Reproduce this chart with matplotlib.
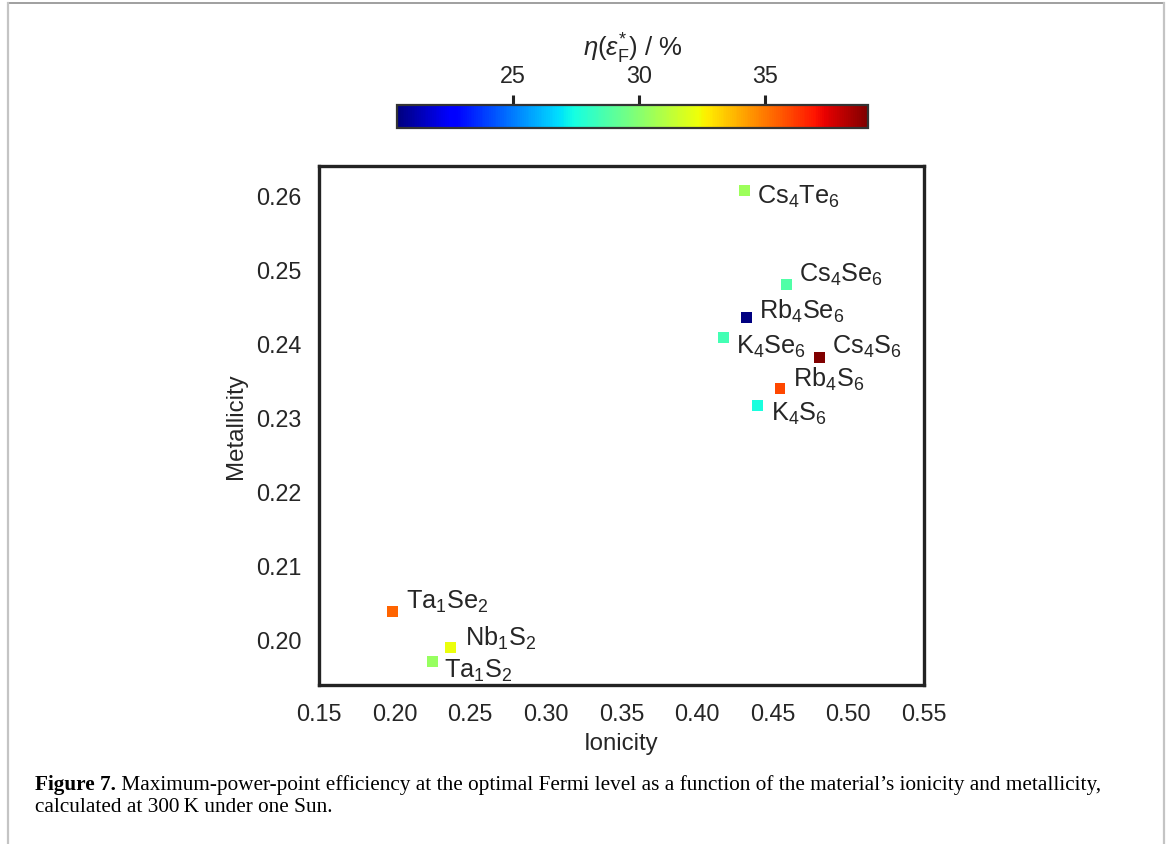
import matplotlib
matplotlib.use("Agg")
import matplotlib.pyplot as plt
from matplotlib.colors import Normalize
from matplotlib.lines import Line2D
import numpy as np

# ---------------- data ----------------
materials = ["Cs4Te6", "Cs4Se6", "Rb4Se6", "K4Se6", "Cs4S6", "Rb4S6", "K4S6",
             "Ta1Se2", "Nb1S2", "Ta1S2"]
labels = [r"Cs$_\mathregular{4}$Te$_\mathregular{6}$",
          r"Cs$_\mathregular{4}$Se$_\mathregular{6}$",
          r"Rb$_\mathregular{4}$Se$_\mathregular{6}$",
          r"K$_\mathregular{4}$Se$_\mathregular{6}$",
          r"Cs$_\mathregular{4}$S$_\mathregular{6}$",
          r"Rb$_\mathregular{4}$S$_\mathregular{6}$",
          r"K$_\mathregular{4}$S$_\mathregular{6}$",
          r"Ta$_\mathregular{1}$Se$_\mathregular{2}$",
          r"Nb$_\mathregular{1}$S$_\mathregular{2}$",
          r"Ta$_\mathregular{1}$S$_\mathregular{2}$"]
ionicity = [0.4312, 0.4592, 0.4328, 0.4173, 0.4806, 0.4548, 0.4398,
            0.1987, 0.2371, 0.2252]
metallicity = [0.2606, 0.2479, 0.2434, 0.2408, 0.2381, 0.2339, 0.2315,
               0.2037, 0.1989, 0.1970]
efficiency = [30.5, 28.8, 20.4, 28.5, 39.1, 36.0, 27.5, 35.4, 32.3, 30.4]

xticks = [0.15, 0.20, 0.25, 0.30, 0.35, 0.40, 0.45, 0.50, 0.55]
yticks = [0.20, 0.21, 0.22, 0.23, 0.24, 0.25, 0.26]
cbar_ticks = [25, 30, 35]

# label offsets (pixels) relative to marker, baseline alignment
label_offsets = {
    "Cs4Te6": (13, -12.7), "Cs4Se6": (12.6, 4.2), "Rb4Se6": (12.6, 0.5),
    "K4Se6": (12.7, -16.2), "Cs4S6": (13.3, 3.8), "Rb4S6": (13.3, 2.2),
    "K4S6": (13.7, -13.8), "Ta1Se2": (13, 4.2), "Nb1S2": (14.3, 2.1),
    "Ta1S2": (11.3, -15.2),
}

# ---------------- style ----------------
plt.rcParams['font.family'] = ['Liberation Sans', 'DejaVu Sans']
plt.rcParams['mathtext.fontset'] = 'custom'
plt.rcParams['mathtext.rm'] = 'Liberation Sans'
plt.rcParams['mathtext.it'] = 'Liberation Sans:italic'
plt.rcParams['mathtext.bf'] = 'Liberation Sans:bold'
txt_col = '#262626'
spine_col = '#232323'

W, H = 1170, 845
fig = plt.figure(figsize=(W / 100, H / 100), dpi=100)
fig.patch.set_facecolor('white')

ax = fig.add_axes([319 / W, 1 - 686 / H, (924 - 319) / W, (686 - 167) / H])
norm = Normalize(vmin=min(efficiency), vmax=max(efficiency))
sc = ax.scatter(ionicity, metallicity, c=efficiency, cmap='jet', norm=norm,
                marker='s', s=62, linewidths=0, zorder=3)

for name, lab, x, y in zip(materials, labels, ionicity, metallicity):
    dx, dy = label_offsets[name]
    ax.annotate(lab, (x, y), xytext=(dx, dy), textcoords='offset pixels',
                ha='left', va='baseline', fontsize=18.2, color=txt_col)

ax.set_xlim(0.15, 0.55)
ax.set_ylim(0.19378, 0.26392)
ax.set_xticks(xticks)
ax.set_xticklabels([f"{t:.2f}" for t in xticks])
ax.set_yticks(yticks)
ax.set_yticklabels([f"{t:.2f}" for t in yticks])
ax.tick_params(axis='both', length=0, labelsize=16.8, colors=txt_col)
ax.tick_params(axis='x', pad=12.5)
ax.tick_params(axis='y', pad=12.5)
for sp in ax.spines.values():
    sp.set_linewidth(2.4)
    sp.set_color(spine_col)
ax.set_xlabel("Ionicity", fontsize=17.3, color=txt_col, labelpad=5)
ax.set_ylabel("Metallicity", fontsize=17.3, color=txt_col, labelpad=6.5)

# ---------------- colorbar ----------------
cax = fig.add_axes([397 / W, 1 - 129 / H, (868 - 397) / W, (129 - 106) / H])
cb = fig.colorbar(sc, cax=cax, orientation='horizontal')
cb.set_ticks(cbar_ticks)
cax.xaxis.set_ticks_position('top')
cax.xaxis.set_label_position('top')
cax.tick_params(axis='x', direction='out', length=7, width=2.2, colors=spine_col,
                labelsize=16.8, labelcolor=txt_col, pad=6)
cb.outline.set_linewidth(1.6)
cb.outline.set_edgecolor('#333333')
cb.set_label(r"$\eta(\varepsilon_\mathregular{F}^{*})$ / %", fontsize=18.5,
             color=txt_col, labelpad=6)

# ---------------- page border ----------------
fig.add_artist(Line2D([8 / W, 1164 / W], [1 - 4 / H, 1 - 4 / H],
                      transform=fig.transFigure, color='#8f8f8f', lw=1.2))
fig.add_artist(Line2D([7.5 / W, 7.5 / W], [0, 1 - 4 / H],
                      transform=fig.transFigure, color='#c4c4c4', lw=1.6))
fig.add_artist(Line2D([1164 / W, 1164 / W], [0, 1 - 4 / H],
                      transform=fig.transFigure, color='#c4c4c4', lw=1.6))

# ---------------- caption ----------------
cap_fs = 13.0
serif = ['Liberation Serif', 'DejaVu Serif']
x0 = 35
b1 = 790
b2 = 812
line1_rest = (" Maximum-power-point efficiency at the optimal Fermi level as a function "
              "of the material\u2019s ionicity and metallicity,")
line2 = "calculated at 300\u2009K under one Sun."

fig.canvas.draw()
renderer = fig.canvas.get_renderer()

def draw_caption(fs):
    t1 = fig.text(x0 / W, 1 - b1 / H, "Figure 7.", family=serif, weight='bold',
                  fontsize=fs, va='baseline', ha='left', color='black')
    ext = t1.get_window_extent(renderer)
    t2 = fig.text(ext.x1 / W, 1 - b1 / H, line1_rest, family=serif,
                  fontsize=fs, va='baseline', ha='left', color='black')
    t3 = fig.text(x0 / W, 1 - b2 / H, line2, family=serif,
                  fontsize=fs, va='baseline', ha='left', color='black')
    return t1, t2, t3

parts = draw_caption(cap_fs)
end = parts[1].get_window_extent(renderer).x1
target = 1093
for p in parts:
    p.remove()
cap_fs = cap_fs * (target - x0) / (end - x0)
draw_caption(cap_fs)

fig.savefig("out.png", dpi=100, facecolor='white')
